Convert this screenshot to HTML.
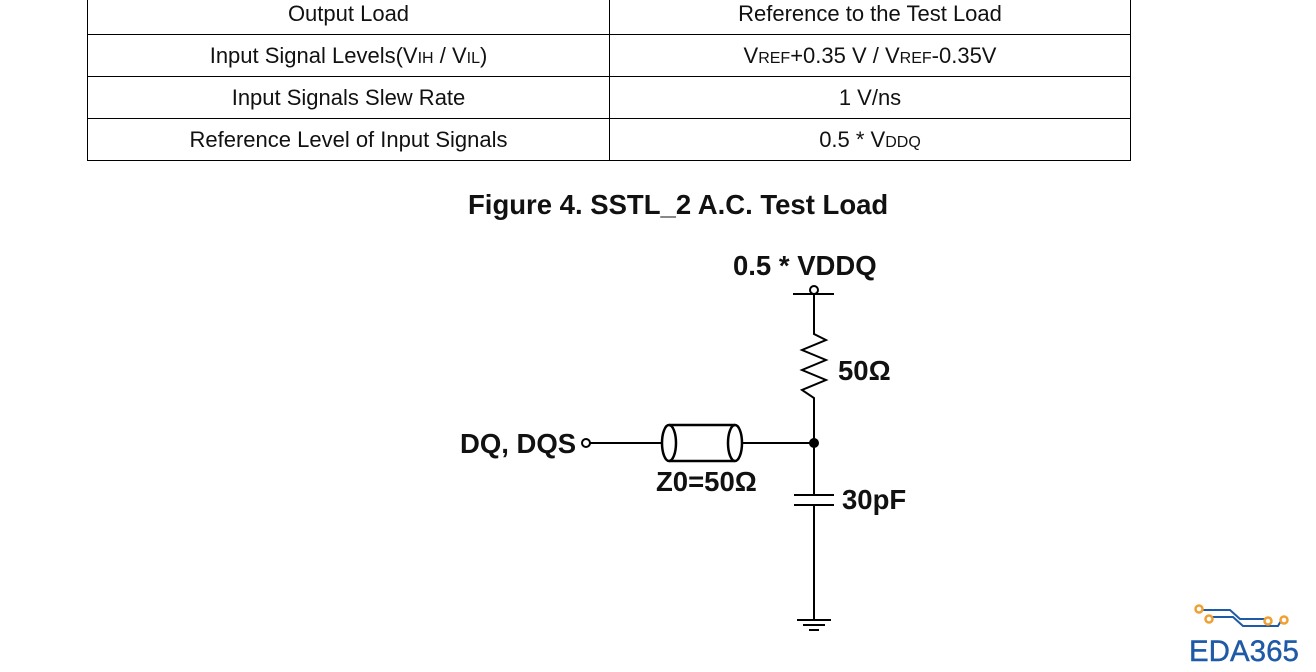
<!DOCTYPE html>
<html><head><style>
body{margin:0;width:1316px;height:672px;background:#fff;overflow:hidden;font-family:"Liberation Sans",Arial,sans-serif;position:relative}
table{position:absolute;left:87px;top:-8px;border-collapse:collapse;width:1044px}
td{border:1.5px solid #000;text-align:center;font-size:22px;height:42px;padding:0;color:#111;box-sizing:border-box}
sub{font-size:16px;vertical-align:baseline}
.t{position:absolute;font-weight:bold;color:#111;font-size:27.5px}
</style></head><body>
<table>
<tr><td style="width:522px">Output Load</td><td>Reference to the Test Load</td></tr>
<tr><td>Input Signal Levels(V<sub>IH</sub> / V<sub>IL</sub>)</td><td>V<sub>REF</sub>+0.35 V / V<sub>REF</sub>-0.35V</td></tr>
<tr><td>Input Signals Slew Rate</td><td>1 V/ns</td></tr>
<tr><td>Reference Level of Input Signals</td><td>0.5 * V<sub>DDQ</sub></td></tr>
</table>
<div class="t" style="left:468px;top:189px">Figure 4. SSTL_2 A.C. Test Load</div>
<div class="t" style="left:733px;top:250px">0.5 * VDDQ</div>
<div class="t" style="left:838px;top:355px">50Ω</div>
<div class="t" style="left:460px;top:428px">DQ, DQS</div>
<div class="t" style="left:656px;top:466px">Z0=50Ω</div>
<div class="t" style="left:842px;top:484px">30pF</div>
<svg width="1316" height="672" style="position:absolute;left:0;top:0" fill="none" stroke="#000" stroke-width="2">
<line x1="793" y1="294" x2="834" y2="294"/>
<circle cx="814" cy="290" r="4" fill="#fff"/>
<polyline points="814,294 814,334 826,340 802,350 826,360 802,370 826,380 802,390 814,398 814,495"/>
<circle cx="814" cy="443" r="4" fill="#000"/>
<line x1="794" y1="495" x2="834" y2="495"/><line x1="794" y1="505" x2="834" y2="505"/>
<line x1="814" y1="505" x2="814" y2="620"/>
<line x1="797" y1="620" x2="831" y2="620"/><line x1="803" y1="625" x2="825" y2="625"/><line x1="809" y1="630" x2="819" y2="630"/>
<circle cx="586" cy="443" r="4" fill="#fff"/>
<line x1="590" y1="443" x2="662" y2="443"/>
<line x1="742" y1="443" x2="814" y2="443"/>
<line x1="669" y1="425" x2="735" y2="425" stroke-width="2.5"/><line x1="669" y1="461" x2="735" y2="461" stroke-width="2.5"/>
<ellipse cx="669" cy="443" rx="7" ry="18" stroke-width="2.5"/>
<ellipse cx="735" cy="443" rx="7" ry="18" stroke-width="2.5"/>
<g stroke="#1f5aa6" stroke-width="2"><polyline points="1202,610 1230,610 1240,619 1265,619"/><polyline points="1210,617 1233,617 1243,626 1278,626 1282,619"/></g>
<g stroke="#f0a030" stroke-width="2.5" fill="#fff"><circle cx="1199" cy="609" r="3.5"/><circle cx="1209" cy="619" r="3.5"/><circle cx="1268" cy="621" r="3.5"/><circle cx="1284" cy="620" r="3.5"/></g>
<text x="1189" y="661" font-family="Liberation Sans" font-size="29.5" fill="#1f5aa6" stroke="#1f5aa6" stroke-width="0.4">EDA365</text>
</svg>
</body></html>
